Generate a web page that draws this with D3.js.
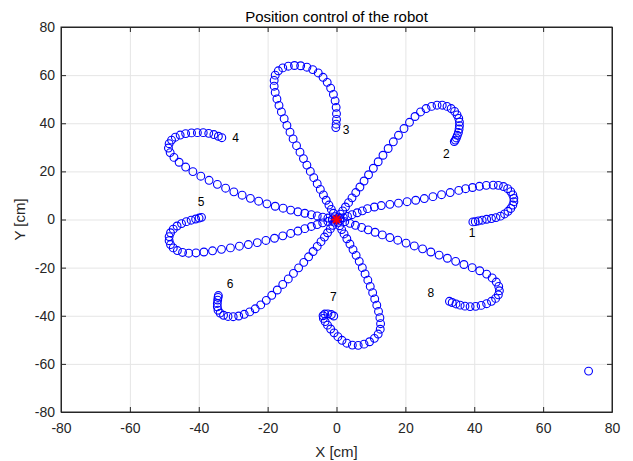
<!DOCTYPE html>
<html>
<head>
<meta charset="utf-8">
<script src="https://cdn.jsdelivr.net/npm/d3@7"></script>
<style>
  body { margin: 0; background: #fff; }
  svg { display: block; }
  text { font-family: "Liberation Sans", Arial, Helvetica, sans-serif; }
</style>
</head>
<body>
<script>
// tick values for both axes
var tickValues = [-80, -60, -40, -20, 0, 20, 40, 60, 80];

// measured robot positions, one array per target run [x, y] in cm
var petal1 = [[0,0],[1,0.4],[2,0.8],[3.2,1.3],[4.5,2],[6,2.8],[7.5,3.6],[9,4.5],[11,5.2],[13,5.8],[15.5,6.3],[18,6.8],[20.5,7.4],[23,8],[25.5,8.7],[28,9.5],[30.5,10.3],[33,11.2],[35.5,12.1],[37.5,12.8],[39.5,13.3],[41.5,13.8],[43.5,14.2],[45.5,14.3],[47,14.2],[48.5,13.7],[49.7,12.8],[50.6,11.6],[51.2,10.2],[51.5,8.8],[51.5,7.4],[51.2,6],[50.6,4.6],[49.8,3.4],[48.8,2.3],[47.6,1.4],[46.3,0.8],[45,0.4],[43.6,0.1],[42.3,-0.3],[41.2,-0.6],[40.3,-0.9],[39.6,-1]];
var petal2 = [[0,0],[0.5,1],[1.1,2.2],[1.8,3.6],[2.6,5.2],[3.5,7],[4.5,9],[5.6,11.2],[6.8,13.5],[8,16],[9.3,18.6],[10.7,21.3],[12.1,24],[13.5,26.7],[15,29.5],[16.5,32.3],[18,35],[19.6,37.8],[21.2,40.4],[22.8,42.8],[24.4,44.7],[26,46.1],[27.6,47],[29.2,47.5],[30.7,47.5],[32.1,47],[33.3,46.1],[34.3,44.9],[35,43.5],[35.5,42],[35.7,40.5],[35.7,39],[35.6,37.6],[35.4,36.2],[35.1,35],[34.8,33.9],[34.5,33],[34.2,32.4]];
var petal3 = [[0,0],[-0.4,1.2],[-0.9,2.6],[-1.5,4.2],[-2.2,6],[-3,8],[-3.8,10.2],[-4.7,12.5],[-5.6,14.9],[-6.6,17.4],[-7.6,20],[-8.6,22.6],[-9.6,25.3],[-10.6,28],[-11.6,30.7],[-12.6,33.5],[-13.5,36.3],[-14.4,39.1],[-15.2,41.9],[-16,44.7],[-16.7,47.4],[-17.3,50.1],[-17.8,52.8],[-18.1,55.4],[-18.1,57.8],[-17.8,60],[-16.9,61.8],[-15.6,63],[-14,63.7],[-12.2,64],[-10.4,63.9],[-8.6,63.3],[-6.9,62.3],[-5.3,60.9],[-3.9,59.1],[-2.7,57],[-1.7,54.6],[-0.9,52],[-0.4,49.3],[-0.1,46.6],[0,44],[0,41.6],[-0.1,39.6],[-0.2,38.2]];
var petal4 = [[0,0],[-1.2,0.3],[-2.5,0.6],[-4,1],[-5.6,1.5],[-7.3,2],[-9.2,2.6],[-11.2,3.2],[-13.3,3.9],[-15.5,4.7],[-17.8,5.5],[-20.2,6.5],[-22.6,7.6],[-25,8.8],[-27.4,10.1],[-29.8,11.5],[-32.2,13],[-34.6,14.6],[-37,16.3],[-39.4,18],[-41.7,19.9],[-43.8,21.8],[-45.7,23.8],[-47.2,25.8],[-48.3,27.8],[-48.8,29.7],[-48.6,31.5],[-47.9,33],[-46.8,34.2],[-45.4,35.1],[-43.8,35.7],[-42.1,36],[-40.4,36.1],[-38.7,36.1],[-37.1,35.8],[-35.6,35.3],[-34.3,34.6],[-33.3,34]];
var petal5 = [[0,0],[-1.2,-0.3],[-2.5,-0.8],[-4,-1.4],[-5.6,-2.1],[-7.3,-2.9],[-9.2,-3.8],[-11.2,-4.8],[-13.3,-5.8],[-15.6,-6.8],[-18,-7.8],[-20.5,-8.7],[-23,-9.6],[-25.6,-10.4],[-28.2,-11.1],[-30.8,-11.8],[-33.4,-12.4],[-36,-13],[-38.5,-13.5],[-40.8,-13.9],[-42.9,-14],[-44.7,-13.7],[-46.2,-12.9],[-47.4,-11.8],[-48.2,-10.4],[-48.6,-8.8],[-48.6,-7.1],[-48.2,-5.5],[-47.4,-4],[-46.3,-2.7],[-45,-1.7],[-43.6,-0.9],[-42.2,-0.3],[-40.9,0.2],[-39.9,0.6],[-39.2,0.9]];
var petal6 = [[0,0],[-0.5,-1.1],[-1.1,-2.4],[-1.8,-3.9],[-2.6,-5.5],[-3.5,-7.3],[-4.5,-9.2],[-5.6,-11.2],[-6.8,-13.3],[-8.1,-15.5],[-9.5,-17.8],[-11,-20.1],[-12.5,-22.4],[-14,-24.7],[-15.6,-27],[-17.2,-29.3],[-18.8,-31.5],[-20.4,-33.6],[-22,-35.5],[-23.6,-37.1],[-25.2,-38.4],[-26.8,-39.4],[-28.4,-40.1],[-30,-40.4],[-31.5,-40.3],[-32.8,-39.8],[-33.8,-38.9],[-34.4,-37.7],[-34.6,-36.3],[-34.6,-34.9],[-34.5,-33.5],[-34.4,-32.4],[-34.3,-31.6]];
var petal7 = [[0,0],[0.4,-1.2],[0.9,-2.6],[1.5,-4.2],[2.2,-6],[3,-8],[3.9,-10.2],[4.8,-12.5],[5.7,-14.9],[6.6,-17.4],[7.5,-20],[8.3,-22.6],[9.1,-25.2],[9.8,-27.8],[10.5,-30.4],[11.1,-33],[11.7,-35.6],[12.2,-38.2],[12.6,-40.8],[12.8,-43.3],[12.7,-45.6],[12.1,-47.6],[11,-49.4],[9.6,-50.8],[8,-51.8],[6.3,-52.3],[4.6,-52.2],[3,-51.4],[1.6,-50.2],[0.4,-48.7],[-0.7,-47.1],[-1.7,-45.5],[-2.6,-43.9],[-3.3,-42.4],[-3.8,-41.1],[-3.9,-40],[-3.4,-39.3],[-2.5,-39.2],[-1.5,-39.5],[-0.8,-40.1]];
var petal8 = [[0,0],[1.1,-0.4],[2.4,-0.9],[3.9,-1.6],[5.5,-2.4],[7.3,-3.3],[9.2,-4.3],[11.2,-5.3],[13.3,-6.4],[15.5,-7.5],[17.8,-8.6],[20.2,-9.8],[22.6,-11],[25,-12.2],[27.4,-13.5],[29.8,-14.8],[32.2,-16.1],[34.6,-17.4],[37,-18.7],[39.4,-20],[41.6,-21.3],[43.6,-22.7],[45.2,-24.3],[46.4,-26],[47.1,-27.8],[47.3,-29.6],[47,-31.3],[46.2,-32.8],[45,-34],[43.6,-35],[42,-35.7],[40.4,-36.1],[38.8,-36.2],[37.3,-36],[35.9,-35.6],[34.7,-35.1],[33.6,-34.5],[32.8,-34]];
var strayPoints = [[73.2,-63]];

// start position (red asterisk)
var homePoint = [0, 0];

// target labels and where they sit
var targetNames = ["1","2","3","4","5","6","7","8"];
var targetLabelPos = [[39.4,-5.7],[31.9,27.3],[2.8,37.2],[-29.3,33.9],[-39.3,7.4],[-30.9,-26.9],[-0.9,-32.2],[27.4,-30.3]];

var W = 633, H = 461;
var plot = { left: 61, right: 612, top: 27, bottom: 412 };

var svg = d3.select("body").append("svg")
  .attr("width", W)
  .attr("height", H);

var xScale = d3.scaleLinear().domain([-80, 80]).range([plot.left, plot.right]);
var yScale = d3.scaleLinear().domain([-80, 80]).range([plot.bottom, plot.top]);

// grid
svg.append("g")
  .attr("transform", "translate(0," + plot.bottom + ")")
  .call(d3.axisBottom(xScale).tickValues(tickValues).tickSize(-(plot.bottom - plot.top)).tickFormat(""))
  .call(function(g){ g.select(".domain").remove(); g.selectAll("line").attr("stroke", "#e5e5e5"); });
svg.append("g")
  .attr("transform", "translate(" + plot.left + ",0)")
  .call(d3.axisLeft(yScale).tickValues(tickValues).tickSize(-(plot.right - plot.left)).tickFormat(""))
  .call(function(g){ g.select(".domain").remove(); g.selectAll("line").attr("stroke", "#e5e5e5"); });

// data points
var allRuns = [petal1, petal2, petal3, petal4, petal5, petal6, petal7, petal8, strayPoints];
var pts = [].concat.apply([], allRuns);

svg.append("g").selectAll("circle")
  .data(pts)
  .enter().append("circle")
  .attr("cx", function(d){ return xScale(d[0]); })
  .attr("cy", function(d){ return yScale(d[1]); })
  .attr("r", 3.9)
  .attr("fill", "none")
  .attr("stroke", "#0000ff")
  .attr("stroke-width", 1.1);

// home marker (asterisk)
var hx = xScale(homePoint[0]), hy = yScale(homePoint[1]), s = 5;
var star = svg.append("g").attr("stroke", "#ff0000").attr("stroke-width", 2);
star.append("line").attr("x1", hx - s).attr("x2", hx + s).attr("y1", hy).attr("y2", hy);
star.append("line").attr("x1", hx).attr("x2", hx).attr("y1", hy - s).attr("y2", hy + s);
star.append("line").attr("x1", hx - s*0.72).attr("x2", hx + s*0.72).attr("y1", hy - s*0.72).attr("y2", hy + s*0.72);
star.append("line").attr("x1", hx - s*0.72).attr("x2", hx + s*0.72).attr("y1", hy + s*0.72).attr("y2", hy - s*0.72);

// target numbers
svg.append("g").selectAll("text")
  .data(targetNames)
  .enter().append("text")
  .attr("x", function(d, i){ return xScale(targetLabelPos[i][0]); })
  .attr("y", function(d, i){ return yScale(targetLabelPos[i][1]); })
  .attr("dy", "0.35em")
  .attr("text-anchor", "middle")
  .attr("font-size", "12px")
  .attr("fill", "#000")
  .text(function(d){ return d; });

// axes with inward ticks
var fmt = function(d){ return String(d); };
var xAxis = svg.append("g")
  .attr("transform", "translate(0," + plot.bottom + ")")
  .call(d3.axisBottom(xScale).tickValues(tickValues).tickSizeInner(-5).tickSizeOuter(0).tickPadding(11.5).tickFormat(fmt));
var yAxis = svg.append("g")
  .attr("transform", "translate(" + plot.left + ",0)")
  .call(d3.axisLeft(yScale).tickValues(tickValues).tickSizeInner(-5).tickSizeOuter(0).tickPadding(6).tickFormat(fmt));
var topAxis = svg.append("g")
  .attr("transform", "translate(0," + plot.top + ")")
  .call(d3.axisTop(xScale).tickValues(tickValues).tickSizeInner(-5).tickSizeOuter(0).tickFormat(""));
var rightAxis = svg.append("g")
  .attr("transform", "translate(" + plot.right + ",0)")
  .call(d3.axisRight(yScale).tickValues(tickValues).tickSizeInner(-5).tickSizeOuter(0).tickFormat(""));

[xAxis, yAxis, topAxis, rightAxis].forEach(function(a){
  a.select(".domain").attr("stroke", "#262626");
  a.selectAll(".tick line").attr("stroke", "#262626");
  a.selectAll("text").attr("font-size", "14px").attr("fill", "#262626")
    .style("font-family", '"Liberation Sans", Arial, sans-serif');
});

// outer box
svg.append("rect")
  .attr("x", plot.left).attr("y", plot.top)
  .attr("width", plot.right - plot.left).attr("height", plot.bottom - plot.top)
  .attr("fill", "none").attr("stroke", "#262626").attr("stroke-width", 1);

// title and axis labels
svg.append("text")
  .attr("x", (plot.left + plot.right) / 2).attr("y", 21.5)
  .attr("text-anchor", "middle").attr("font-size", "15px").attr("fill", "#000")
  .text("Position control of the robot");
svg.append("text")
  .attr("x", (plot.left + plot.right) / 2).attr("y", 456.5)
  .attr("text-anchor", "middle").attr("font-size", "15px").attr("fill", "#262626")
  .text("X [cm]");
svg.append("text")
  .attr("transform", "translate(24.5," + ((plot.top + plot.bottom) / 2) + ") rotate(-90)")
  .attr("text-anchor", "middle").attr("font-size", "15px").attr("fill", "#262626")
  .text("Y [cm]");
</script>
</body>
</html>
